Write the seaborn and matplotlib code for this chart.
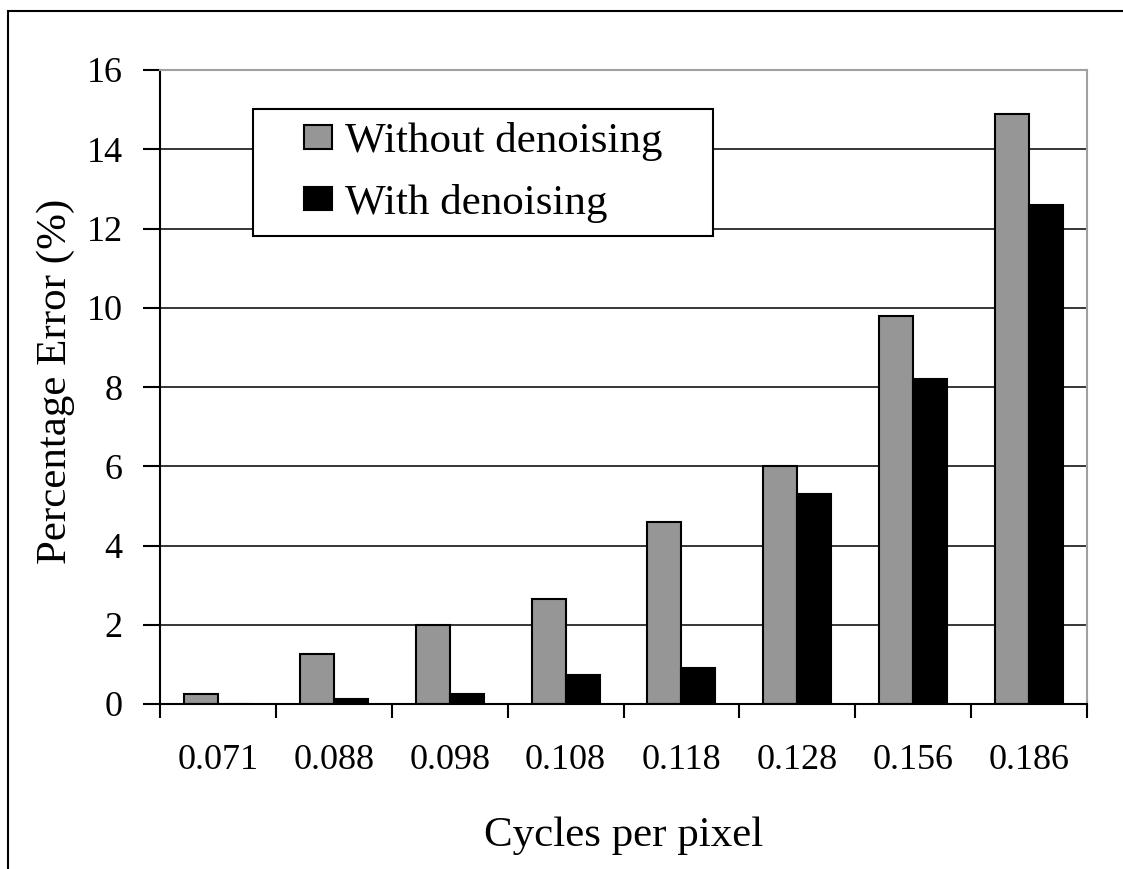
import numpy as np
import pandas as pd
import matplotlib
matplotlib.use("Agg")
import matplotlib.pyplot as plt
import seaborn as sns
from matplotlib.patches import Rectangle, Patch
from matplotlib.legend_handler import HandlerPatch

# Spatial frequency of the test pattern (categories)
cycles = ["0.071", "0.088", "0.098", "0.108", "0.118", "0.128", "0.156", "0.186"]
# Percentage error for each frequency
without_denoising = [0.24, 1.25, 2.0, 2.66, 4.6, 6.0, 9.8, 14.9]
with_denoising = [0.0, 0.12, 0.25, 0.72, 0.92, 5.3, 8.2, 12.6]
series_names = ["Without denoising", "With denoising"]
series_colors = ["#969696", "#000000"]
y_ticks = [0, 2, 4, 6, 8, 10, 12, 14, 16]

sns.set_theme(style="white")
plt.rcParams["font.family"] = ["Liberation Serif", "DejaVu Serif"]

df = pd.DataFrame({
    "cycles": cycles * 2,
    "error": without_denoising + with_denoising,
    "series": [series_names[0]] * len(cycles) + [series_names[1]] * len(cycles),
})

W, H = 1123, 869
fig = plt.figure(figsize=(W / 100, H / 100), dpi=100)
fig.patch.set_facecolor("white")
ax = fig.add_axes([160 / W, 1 - 704 / H, 927 / W, 634 / H])

sns.barplot(data=df, x="cycles", y="error", hue="series", order=cycles,
            hue_order=series_names, palette=series_colors, saturation=1,
            width=0.587, edgecolor="black", linewidth=1.5, errorbar=None,
            legend=False, ax=ax)

ax.set_xlim(-0.5, len(cycles) - 0.5)
ax.set_ylim(0, 16)
ax.set_yticks(y_ticks)
ax.set_yticklabels([str(t) for t in y_ticks])

# horizontal gridlines behind the bars
ax.set_axisbelow(True)
ax.yaxis.grid(True, color="black", linewidth=1.1)
ax.xaxis.grid(False)
for gl, t in zip(ax.get_ygridlines(), y_ticks):
    if t in (0, 16):
        gl.set_visible(False)

# plot-area frame
for side in ("left", "bottom"):
    ax.spines[side].set_color("black")
    ax.spines[side].set_linewidth(1.5)
for side in ("top", "right"):
    ax.spines[side].set_color("#a0a0a0")
    ax.spines[side].set_linewidth(1.5)

# category-boundary ticks with labels centred between them
ax.set_xticks(np.arange(-0.5, len(cycles), 1.0))
ax.set_xticklabels([""] * (len(cycles) + 1))
ax.set_xticks(np.arange(len(cycles)), minor=True)
ax.set_xticklabels(cycles, minor=True)
ax.tick_params(axis="x", which="major", direction="out", length=10, width=1.5,
               color="black", bottom=True)
ax.tick_params(axis="x", which="minor", length=0, pad=29, labelsize=26,
               labelcolor="black", bottom=True)
ax.tick_params(axis="y", which="major", direction="out", length=12, width=1.5,
               color="black", pad=15, labelsize=26, labelcolor="black", left=True)

ax.set_xlabel("Cycles per pixel", fontsize=31, color="black")
ax.xaxis.set_label_coords(0.5, -0.178)
ax.set_ylabel("Percentage Error (%)", fontsize=31, color="black")
ax.yaxis.set_label_coords(-0.092, 0.509)


def square_handle(legend, orig_handle, xdescent, ydescent, width, height, fontsize):
    sw, sh = 20.0, 17.0
    return Rectangle((-xdescent + width - sw, -ydescent + (height - sh) / 2), sw, sh)


handles = [Patch(facecolor=c, edgecolor="black", linewidth=1.5) for c in series_colors]
leg = ax.legend(handles, series_names, loc="upper left", mode="expand",
                bbox_to_anchor=(253 / W, 1 - 233 / H, 460 / W, 124 / H),
                bbox_transform=fig.transFigure, borderaxespad=0,
                fontsize=31, frameon=True, fancybox=False, framealpha=1,
                edgecolor="black", borderpad=0.3, handlelength=1.53,
                handletextpad=0.3, labelspacing=0.52,
                handler_map={Patch: HandlerPatch(patch_func=square_handle)})
leg.get_frame().set_linewidth(1.5)
for txt in leg.get_texts():
    txt.set_color("black")

# outer chart border
fig.add_artist(Rectangle((8 / W, -0.1), 1.5, 1 - 11 / H + 0.1, fill=False,
                         edgecolor="black", linewidth=1.5,
                         transform=fig.transFigure))

fig.savefig("out.png", dpi=100)
